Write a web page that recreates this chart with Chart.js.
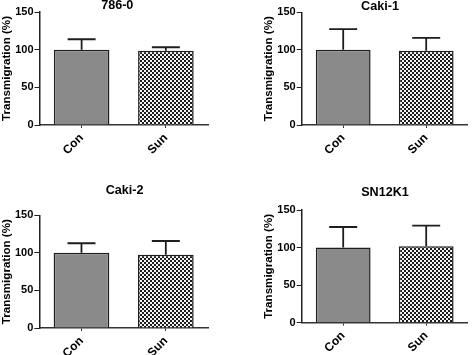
<!DOCTYPE html>
<html><head><meta charset="utf-8">
<script src="https://cdn.jsdelivr.net/npm/chart.js@4/dist/chart.umd.min.js"></script>
<style>
html,body{margin:0;padding:0;background:#fff;width:472px;height:355px;overflow:hidden;position:relative}
canvas{position:absolute}
</style></head><body>
<canvas id="c0"></canvas><canvas id="c1"></canvas><canvas id="c2"></canvas><canvas id="c3"></canvas>
<script>
// ---- data ----
const categories = ['Con', 'Sun'];
const panelTitles = ['786-0', 'Caki-1', 'Caki-2', 'SN12K1'];
const mean786 = [100, 98.5];
const err786 = [13.8, 4.7];
const meanCaki1 = [100, 98.7];
const errCaki1 = [27.5, 17.3];
const meanCaki2 = [100, 97.6];
const errCaki2 = [12.8, 18.2];
const meanSN12K1 = [100, 101.7];
const errSN12K1 = [27.4, 27.5];
const yTicks = [0, 50, 100, 150];
const yAxisTitle = 'Transmigration (%)';

const panelMeans = [mean786, meanCaki1, meanCaki2, meanSN12K1];
const panelErrs = [err786, errCaki1, errCaki2, errSN12K1];

// ---- layout / style ----
const FONT = "'Liberation Sans', Arial, sans-serif";
const layouts = [
  {left:0,   top:0,   w:236, h:177, padL:0,    padR:28,  padT:12,   padB:12, yW:39.5, xH:40,   tdx:-6.5, tdy:-6},
  {left:236, top:0,   w:236, h:177, padL:25.4, padR:4.3, padT:12.3, padB:12, yW:40.3, xH:40,   tdx:-4.7, tdy:-5.3},
  {left:0,   top:178, w:236, h:177, padL:0,    padR:28,  padT:37.3, padB:0,  yW:39.3, xH:27,   tdx:1,    tdy:-25},
  {left:236, top:178, w:236, h:177, padL:25.4, padR:4.3, padT:32,   padB:0,  yW:40.3, xH:32.3, tdx:0.3,  tdy:-17}
];

function checker() {
  const c = document.createElement('canvas');
  c.width = 4; c.height = 4;
  const g = c.getContext('2d');
  g.fillStyle = '#f4f4f4'; g.fillRect(0, 0, 4, 4);
  g.fillStyle = '#1c1c1c'; g.fillRect(0, 0, 2, 2); g.fillRect(2, 2, 2, 2);
  return g.createPattern(c, 'repeat');
}

const errorBars = {
  id: 'errorBars',
  afterDatasetsDraw(chart, args, o) {
    const ctx = chart.ctx, y = chart.scales.y;
    const meta = chart.getDatasetMeta(0);
    const vals = chart.data.datasets[0].data;
    ctx.save();
    ctx.strokeStyle = o.color; ctx.lineWidth = o.width; ctx.lineCap = 'butt';
    meta.data.forEach((bar, i) => {
      const top = y.getPixelForValue(vals[i] + o.errors[i]);
      ctx.beginPath();
      ctx.moveTo(bar.x, bar.y); ctx.lineTo(bar.x, top);
      ctx.moveTo(bar.x - o.cap, top); ctx.lineTo(bar.x + o.cap, top);
      ctx.stroke();
    });
    ctx.restore();
  }
};

const panelTitle = {
  id: 'panelTitle',
  afterDraw(chart, args, o) {
    const a = chart.chartArea, ctx = chart.ctx;
    ctx.save();
    ctx.font = 'bold 12.6px ' + FONT;
    ctx.fillStyle = '#000';
    ctx.textAlign = 'center'; ctx.textBaseline = 'middle';
    ctx.fillText(o.text, (a.left + a.right) / 2 + o.dx, a.top + o.dy);
    ctx.restore();
  }
};

layouts.forEach((L, k) => {
  const cv = document.getElementById('c' + k);
  cv.width = L.w; cv.height = L.h;
  cv.style.left = L.left + 'px'; cv.style.top = L.top + 'px';
  cv.style.width = L.w + 'px'; cv.style.height = L.h + 'px';
  new Chart(cv, {
    type: 'bar',
    data: {
      labels: categories,
      datasets: [{
        data: panelMeans[k],
        backgroundColor: ['#8a8a8a', checker()],
        borderColor: '#1e1e1e',
        borderWidth: 1.5,
        borderSkipped: 'bottom',
        barPercentage: 0.66,
        categoryPercentage: 1
      }]
    },
    options: {
      responsive: false,
      animation: false,
      devicePixelRatio: 1,
      layout: {padding: {left: L.padL, right: L.padR, top: L.padT, bottom: L.padB}},
      plugins: {
        legend: {display: false},
        tooltip: {enabled: false},
        title: {display: false},
        errorBars: {errors: panelErrs[k], color: '#1e1e1e', width: 1.8, cap: 14},
        panelTitle: {text: panelTitles[k], dx: L.tdx, dy: L.tdy}
      },
      scales: {
        x: {
          offset: true,
          grid: {display: true, drawOnChartArea: false, drawTicks: true, tickLength: 3, color: '#333', offset: false},
          border: {display: true, color: '#333', width: 1.5},
          ticks: {
            minRotation: 45, maxRotation: 45, padding: 3, color: '#000',
            font: {family: FONT, weight: 'bold', size: 12}
          },
          afterFit(s) { s.height = L.xH; }
        },
        y: {
          min: 0, max: 150,
          afterBuildTicks(s) { s.ticks = yTicks.map(v => ({value: v})); },
          grid: {display: true, drawOnChartArea: false, drawTicks: true, tickLength: 5, color: '#222'},
          border: {display: true, color: '#222', width: 1.5},
          ticks: {padding: 1, color: '#000', font: {family: FONT, weight: 'bold', size: 11}},
          title: {
            display: true, text: yAxisTitle, color: '#000',
            font: {family: FONT, weight: 'bold', size: 11.6},
            padding: {top: 0, bottom: 0}
          },
          afterFit(s) { s.width = L.yW; }
        }
      }
    },
    plugins: [errorBars, panelTitle]
  });
});
</script>
</body></html>
